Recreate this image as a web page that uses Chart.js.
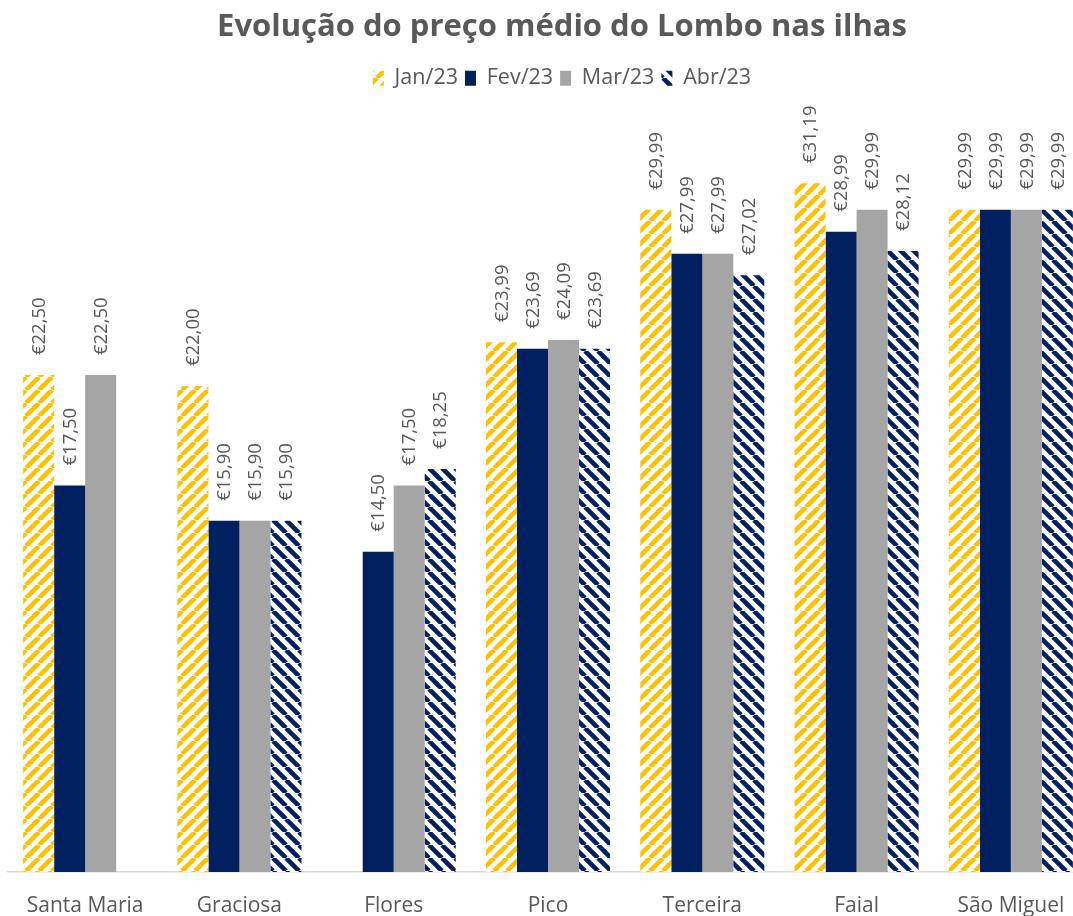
<!DOCTYPE html>
<html lang="pt">
<head>
<meta charset="utf-8">
<title>Evolução do preço médio do Lombo nas ilhas</title>
<script src="https://cdn.jsdelivr.net/npm/chart.js@4/dist/chart.umd.min.js"></script>
<style>
  html, body { margin: 0; padding: 0; background: #fff; overflow: hidden; }
  #wrap { position: relative; width: 1124px; height: 916px; }
</style>
</head>
<body>
<div id="wrap"><canvas id="grafico"></canvas></div>
<script>
const ilhas = ["Santa Maria", "Graciosa", "Flores", "Pico", "Terceira", "Faial", "São Miguel"];
const meses = ["Jan/23", "Fev/23", "Mar/23", "Abr/23"];

const jan = [22.50, 22.00, null, 23.99, 29.99, 31.19, 29.99];
const fev = [17.50, 15.90, 14.50, 23.69, 27.99, 28.99, 29.99];
const mar = [22.50, 15.90, 17.50, 24.09, 27.99, 29.99, 29.99];
const abr = [null, 15.90, 18.25, 23.69, 27.02, 28.12, 29.99];

const AMARELO = "#FFC000";
const AZUL = "#002060";
const CINZA = "#A5A5A5";
const TEXTO = "#595959";

// tracejado diagonal (sobe para a direita ou desce para a direita)
function riscas(cor, subir) {
  const t = 13;
  const c = document.createElement("canvas");
  c.width = t; c.height = t;
  const g = c.getContext("2d");
  g.fillStyle = "#fff";
  g.fillRect(0, 0, t, t);
  g.strokeStyle = cor;
  g.lineWidth = 4.6;
  g.beginPath();
  for (let k = -1; k <= 1; k++) {
    if (subir) {
      g.moveTo(k * t, t); g.lineTo(k * t + t, 0);
    } else {
      g.moveTo(k * t, 0); g.lineTo(k * t + t, t);
    }
  }
  g.stroke();
  return g.createPattern(c, "repeat");
}

function euro(v) {
  return "€" + v.toFixed(2).replace(".", ",");
}

// valores escritos na vertical por cima de cada barra
const rotulos = {
  id: "rotulos",
  afterDatasetsDraw(chart) {
    const ctx = chart.ctx;
    ctx.save();
    ctx.font = "18.5px 'Open Sans'";
    ctx.fillStyle = TEXTO;
    ctx.textAlign = "left";
    ctx.textBaseline = "middle";
    chart.data.datasets.forEach((ds, i) => {
      const meta = chart.getDatasetMeta(i);
      meta.data.forEach((bar, j) => {
        const v = ds.data[j];
        if (v == null) return;
        ctx.save();
        ctx.translate(bar.x + 1, bar.y - 20);
        ctx.rotate(-Math.PI / 2);
        ctx.fillText(euro(v), 0, 0);
        ctx.restore();
      });
    });
    ctx.restore();
  }
};

const ctx = document.getElementById("grafico").getContext("2d");

new Chart(ctx, {
  type: "bar",
  data: {
    labels: ilhas,
    datasets: [
      { label: meses[0], data: jan, backgroundColor: riscas(AMARELO, true) },
      { label: meses[1], data: fev, backgroundColor: AZUL },
      { label: meses[2], data: mar, backgroundColor: CINZA },
      { label: meses[3], data: abr, backgroundColor: riscas(AZUL, false) }
    ]
  },
  options: {
    responsive: true,
    maintainAspectRatio: false,
    animation: false,
    layout: { padding: { top: 0, bottom: 0, left: 0, right: 0 } },
    datasets: {
      bar: { categoryPercentage: 0.804, barPercentage: 1.0, borderWidth: 0 }
    },
    plugins: {
      title: {
        display: true,
        text: "Evolução do preço médio do Lombo nas ilhas",
        color: TEXTO,
        font: { family: "'Open Sans'", size: 31, weight: "bold" },
        padding: { top: 9, bottom: 14.3 }
      },
      legend: {
        display: true,
        position: "top",
        labels: {
          color: TEXTO,
          font: { family: "'Open Sans'", size: 21.5 },
          boxWidth: 11,
          boxHeight: 15,
          padding: 7
        }
      },
      tooltip: { enabled: false }
    },
    scales: {
      x: {
        grid: { display: false },
        border: { display: true, color: "#D9D9D9", width: 1.5 },
        ticks: {
          color: TEXTO,
          font: { family: "'Open Sans'", size: 21 },
          padding: 13
        },
        afterFit(s) { s.height = 44; }
      },
      y: {
        position: "left",
        min: 0,
        max: 35,
        grid: { display: false },
        border: { display: false },
        ticks: { display: false },
        afterFit(s) { s.width = 8; }
      },
      y2: {
        position: "right",
        min: 0,
        max: 35,
        grid: { display: false },
        border: { display: false },
        ticks: { display: false },
        afterFit(s) { s.width = 36; }
      }
    }
  },
  plugins: [rotulos]
});
</script>
</body>
</html>
